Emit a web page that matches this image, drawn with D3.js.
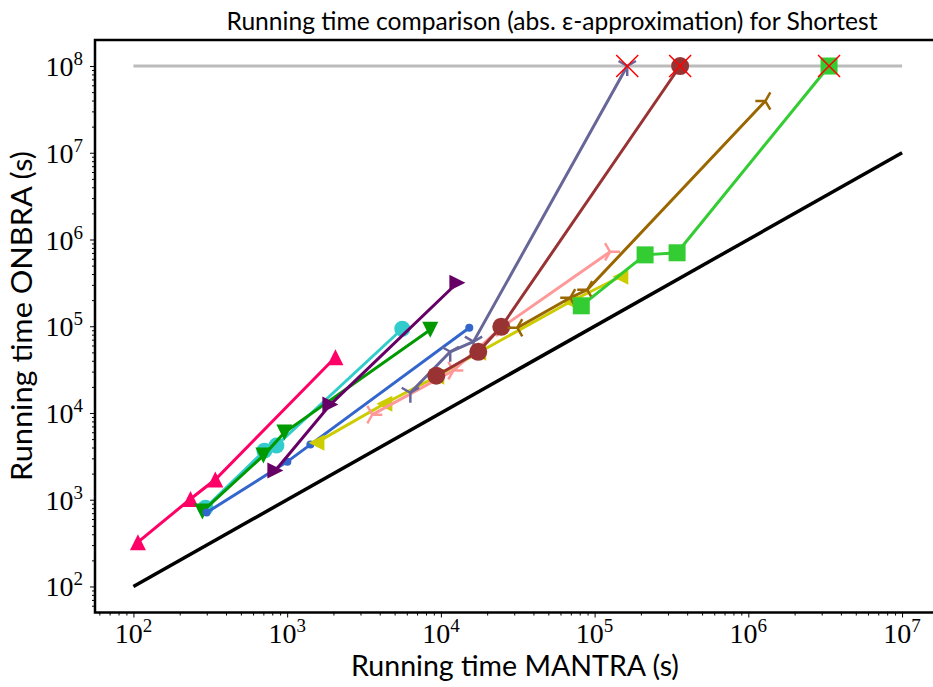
<!DOCTYPE html>
<html>
<head>
<meta charset="utf-8">
<script src="https://cdn.jsdelivr.net/npm/d3@7"></script>
<style>
  body { margin: 0; background: #fff; }
  svg { display: block; }
  .tick-label { font-family: 'Liberation Serif', 'DejaVu Serif', serif; font-size: 28px; }
  .tick-label .sup { font-size: 19px; }
  .label { font-family: 'Lato', 'Open Sans', 'DejaVu Sans', sans-serif; font-size: 28px; }
  .title { font-family: 'Lato', 'Open Sans', 'DejaVu Sans', sans-serif; font-size: 25.5px; }
</style>
</head>
<body>
<div class="chart"></div>
<script>
// running times in seconds
const pinkX = [107, 235, 341, 2060];
const pinkY = [324, 1020, 1710, 44000];
const cyanX = [294, 711, 851, 5610];
const cyanY = [806, 3680, 4210, 93600];
const greenX = [281, 700, 959, 8530];
const greenY = [731, 3230, 5940, 91200];
const blueX = [299, 1003, 1416, 15300];
const blueY = [711, 2750, 4320, 96200];
const purpleX = [838, 1910, 12800];
const purpleY = [2170, 12500, 317000];
const yellowX = [1550, 4290, 9330, 17500, 69400, 147000];
const yellowY = [4550, 12800, 26200, 49500, 191500, 372000];
const salmonX = [3580, 12050, 24700, 126000];
const salmonY = [9570, 30800, 96200, 721000];
const slateX = [6330, 11500, 16300, 163000];
const slateY = [17100, 50800, 66400, 1e8];
const maroonX = [9330, 17500, 24700, 360000];
const maroonY = [26900, 50800, 98600, 1e8];
const brownX = [31400, 69400, 89500, 1290000];
const brownY = [96200, 213000, 263000, 39500000];
const limeX = [81900, 213000, 344000, 3350000];
const limeY = [172000, 665000, 703000, 1e8];

const timeLimit = 1e8;
const diagRange = [1e2, 1e7];
const xTicks = [1e2, 1e3, 1e4, 1e5, 1e6, 1e7];
const yTicks = [1e2, 1e3, 1e4, 1e5, 1e6, 1e7, 1e8];

const series = [
  { xs: pinkX, ys: pinkY, color: '#ff0066', marker: 'up', r: 8 },
  { xs: cyanX, ys: cyanY, color: '#33cccc', marker: 'circle', r: 8 },
  { xs: greenX, ys: greenY, color: '#009900', marker: 'down', r: 8 },
  { xs: blueX, ys: blueY, color: '#3366cc', marker: 'circle', r: 4 },
  { xs: purpleX, ys: purpleY, color: '#660066', marker: 'right', r: 8 },
  { xs: yellowX, ys: yellowY, color: '#cccc00', marker: 'left', r: 8 },
  { xs: salmonX, ys: salmonY, color: '#ff9999', marker: 'tri-right', r: 10 },
  { xs: slateX, ys: slateY, color: '#666699', marker: 'tri-down', r: 10 },
  { xs: maroonX, ys: maroonY, color: '#993333', marker: 'circle', r: 9 },
  { xs: brownX, ys: brownY, color: '#996600', marker: 'tri-left', r: 10 },
  { xs: limeX, ys: limeY, color: '#33cc33', marker: 'square', r: 8.5 },
];

const width = 933;
const height = 687;
const plot = { left: 95, right: 940.5, top: 40, bottom: 612.5 };

const x = d3.scaleLog().domain([10 ** 1.75, 10 ** 7.25]).range([plot.left, plot.right]);
const y = d3.scaleLog().domain([10 ** 1.7, 10 ** 8.3]).range([plot.bottom, plot.top]);

const svg = d3.select('.chart').append('svg')
    .attr('width', width)
    .attr('height', height);

function markerPath(type, r) {
  const s = 0.866 * r;
  switch (type) {
    case 'up': return `M0,${-r}L${r},${r}L${-r},${r}Z`;
    case 'down': return `M0,${r}L${r},${-r}L${-r},${-r}Z`;
    case 'left': return `M${-r},0L${r},${-r}L${r},${r}Z`;
    case 'right': return `M${r},0L${-r},${-r}L${-r},${r}Z`;
    case 'square': return `M${-r},${-r}H${r}V${r}H${-r}Z`;
    case 'tri-down': return `M0,0V${r}M0,0L${-s},${-r / 2}M0,0L${s},${-r / 2}`;
    case 'tri-left': return `M0,0H${-r}M0,0L${r / 2},${-s}M0,0L${r / 2},${s}`;
    case 'tri-right': return `M0,0H${r}M0,0L${-r / 2},${-s}M0,0L${-r / 2},${s}`;
    default: return d3.symbol(d3.symbolCircle, Math.PI * r * r)();
  }
}

// minor tick positions for log axes
function minorTicks(scale) {
  const [lo, hi] = scale.domain();
  const out = [];
  for (let k = 0; k < 9; k++) {
    for (let m = 2; m < 10; m++) {
      const v = m * 10 ** k;
      if (v > lo && v < hi) out.push(v);
    }
  }
  return out;
}

const xAxis = svg.append('g')
    .attr('transform', `translate(0, ${plot.bottom})`);
xAxis.append('g')
    .call(d3.axisBottom(x).tickValues(minorTicks(x)).tickSize(3).tickFormat(''));
xAxis.append('g')
    .call(d3.axisBottom(x).tickValues(xTicks).tickSize(5).tickFormat(''));

const yAxis = svg.append('g')
    .attr('transform', `translate(${plot.left}, 0)`);
yAxis.append('g')
    .call(d3.axisLeft(y).tickValues(minorTicks(y)).tickSize(3).tickFormat(''));
yAxis.append('g')
    .call(d3.axisLeft(y).tickValues(yTicks).tickSize(5).tickFormat(''));

svg.selectAll('.domain').remove();
svg.selectAll('.tick line').attr('stroke', '#000').attr('stroke-width', 1);

function powerLabel(sel) {
  sel.append('tspan').text('10');
  sel.append('tspan')
      .attr('class', 'sup')
      .attr('dy', -11)
      .text((d) => Math.round(Math.log10(d)));
}

svg.append('g').selectAll('text')
    .data(xTicks)
  .enter().append('text')
    .attr('class', 'tick-label')
    .attr('x', (d) => x(d))
    .attr('y', plot.bottom + 30)
    .attr('text-anchor', 'middle')
    .call(powerLabel);

svg.append('g').selectAll('text')
    .data(yTicks)
  .enter().append('text')
    .attr('class', 'tick-label')
    .attr('x', plot.left - 12)
    .attr('y', (d) => y(d) + 10)
    .attr('text-anchor', 'end')
    .call(powerLabel);

const main = svg.append('g');

// timeout level and the y = x reference
main.append('line')
    .attr('x1', x(diagRange[0])).attr('x2', x(diagRange[1]))
    .attr('y1', y(timeLimit)).attr('y2', y(timeLimit))
    .attr('stroke', '#bbbbbb')
    .attr('stroke-width', 3);

main.append('line')
    .attr('x1', x(diagRange[0])).attr('x2', x(diagRange[1]))
    .attr('y1', y(diagRange[0])).attr('y2', y(diagRange[1]))
    .attr('stroke', '#000')
    .attr('stroke-width', 3.5);

const line = d3.line()
    .x((d) => x(d[0]))
    .y((d) => y(d[1]));

series.forEach((s) => {
  const pts = s.xs.map((v, i) => [v, s.ys[i]]);
  const g = main.append('g');
  g.append('path')
      .datum(pts)
      .attr('d', line)
      .attr('fill', 'none')
      .attr('stroke', s.color)
      .attr('stroke-width', 3);

  const isTri = s.marker.startsWith('tri');
  g.selectAll('.mk')
      .data(pts)
    .enter().append('path')
      .attr('class', 'mk')
      .attr('transform', (d) => `translate(${x(d[0])}, ${y(d[1])})`)
      .attr('d', markerPath(s.marker, s.r))
      .attr('fill', isTri ? 'none' : s.color)
      .attr('stroke', isTri ? s.color : 'none')
      .attr('stroke-width', 2.5);
});

// red crosses where the run hit the time limit
const timeouts = [];
series.forEach((s) => {
  s.ys.forEach((v, i) => { if (v >= timeLimit) timeouts.push([s.xs[i], v]); });
});

main.selectAll('.timeout')
    .data(timeouts)
  .enter().append('path')
    .attr('class', 'timeout')
    .attr('transform', (d) => `translate(${x(d[0])}, ${y(d[1])})`)
    .attr('d', 'M-11,-11L11,11M-11,11L11,-11')
    .attr('stroke', '#ff0000')
    .attr('stroke-width', 1.5);

svg.append('rect')
    .attr('x', plot.left)
    .attr('y', plot.top)
    .attr('width', plot.right - plot.left)
    .attr('height', plot.bottom - plot.top)
    .attr('fill', 'none')
    .attr('stroke', '#000')
    .attr('stroke-width', 2.5);

svg.append('text')
    .attr('class', 'title')
    .attr('x', 552)
    .attr('y', 30)
    .attr('text-anchor', 'middle')
    .attr('textLength', 651)
    .attr('lengthAdjust', 'spacingAndGlyphs')
    .text('Running time comparison (abs. ε-approximation) for Shortest');

svg.append('text')
    .attr('class', 'label')
    .attr('x', 515)
    .attr('y', 676)
    .attr('text-anchor', 'middle')
    .attr('textLength', 328)
    .attr('lengthAdjust', 'spacingAndGlyphs')
    .text('Running time MANTRA (s)');

svg.append('text')
    .attr('class', 'label')
    .attr('transform', 'translate(32, 316) rotate(-90)')
    .attr('text-anchor', 'middle')
    .attr('textLength', 330)
    .attr('lengthAdjust', 'spacingAndGlyphs')
    .text('Running time ONBRA (s)');
</script>
</body>
</html>
